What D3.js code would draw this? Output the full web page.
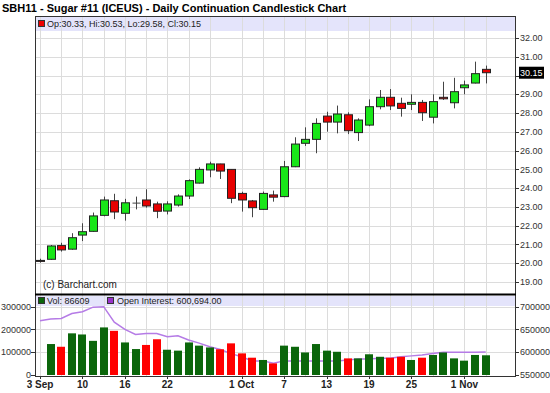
<!DOCTYPE html>
<html>
<head>
<meta charset="utf-8">
<script src="https://cdn.jsdelivr.net/npm/d3@7"></script>
<style>
  body { margin: 0; background: #fff; }
  svg { display: block; font-family: "Liberation Sans", Arial, sans-serif; }
</style>
</head>
<body>
<div id="chart"></div>
<script>
// trading days shown on the chart
const dates = [
  "2010-09-03","2010-09-07","2010-09-08","2010-09-09","2010-09-10","2010-09-13","2010-09-14",
  "2010-09-15","2010-09-16","2010-09-17","2010-09-20","2010-09-21","2010-09-22","2010-09-23",
  "2010-09-24","2010-09-27","2010-09-28","2010-09-29","2010-09-30","2010-10-01","2010-10-04",
  "2010-10-05","2010-10-06","2010-10-07","2010-10-08","2010-10-11","2010-10-12","2010-10-13",
  "2010-10-14","2010-10-15","2010-10-18","2010-10-19","2010-10-20","2010-10-21","2010-10-22",
  "2010-10-25","2010-10-26","2010-10-27","2010-10-28","2010-10-29","2010-11-01","2010-11-02",
  "2010-11-03"
]
const open = [20.15,20.21,20.94,20.75,21.50,21.70,22.55,23.33,22.66,23.23,23.37,23.16,22.78,23.10,
  23.58,24.27,24.97,25.29,25.00,23.72,23.32,22.87,23.64,23.55,25.14,26.39,26.60,27.84,27.52,27.91,
  26.96,27.36,28.34,28.84,28.52,28.47,28.57,27.78,28.84,28.55,29.35,29.60,30.33]
const high = [20.24,20.97,21.09,21.60,22.13,22.70,23.55,23.70,23.43,23.55,23.94,23.28,23.30,23.67,
  24.47,25.11,25.41,25.30,25.00,23.81,23.37,23.82,23.87,25.45,26.71,27.24,27.72,28.07,28.40,28.04,
  27.72,28.73,29.23,29.28,28.82,29.00,28.70,29.00,29.67,29.88,29.73,30.74,30.53]
const low = [20.03,20.18,20.62,20.72,21.18,21.68,22.50,22.35,22.27,22.87,22.96,22.40,22.60,23.02,
  23.42,24.25,24.58,24.49,23.20,22.75,22.45,22.85,23.28,23.52,25.12,26.25,25.86,27.01,26.92,26.88,
  26.51,27.30,28.20,28.16,27.81,28.16,27.58,27.45,28.70,28.25,29.00,29.58,29.58]
const close = [20.12,20.92,20.71,21.36,21.68,22.52,23.37,22.73,23.22,23.23,23.05,22.77,23.16,23.58,
  24.40,25.00,25.29,24.91,23.46,23.37,22.96,23.72,23.52,25.14,26.35,26.60,27.45,27.52,27.95,27.06,
  27.63,28.34,28.84,28.38,28.25,28.57,28.02,28.61,28.76,29.14,29.50,30.10,30.15]
const volume = [null,136000,124000,183000,178000,150000,209000,194000,143000,114000,132000,157000,
  111000,107000,143000,129000,121000,113000,139000,95000,76000,66000,51000,129000,124000,99000,
  136000,107000,102000,73000,73000,91000,80000,76000,80000,66000,76000,88000,99000,73000,63000,
  88000,86609]
const openInterest = [669000,673000,674000,685000,689000,699000,700000,666000,650000,639000,641000,
  641000,634000,636000,627000,620000,612000,606000,597000,590000,581000,581000,576000,581000,581000,
  581000,581000,581000,581000,583000,585000,585000,587000,587000,590000,592000,594000,597000,600000,
  600000,600000,600000,600694]

// x tick labels
const tickDates = ["2010-09-03","2010-09-10","2010-09-16","2010-09-22","2010-10-01","2010-10-07",
  "2010-10-13","2010-10-19","2010-10-25","2010-11-01"]
const tickLabels = ["3 Sep","10","16","22","1 Oct","7","13","19","25","1 Nov"]
// vertical grid lines
const gridDates = ["2010-09-03","2010-09-08","2010-09-10","2010-09-14","2010-09-16","2010-09-20",
  "2010-09-22","2010-09-24","2010-09-28","2010-10-01","2010-10-05","2010-10-07","2010-10-11",
  "2010-10-13","2010-10-15","2010-10-19","2010-10-21","2010-10-25","2010-10-27","2010-11-01",
  "2010-11-03"]
const priceTicks = d3.range(19, 33)
const volTicks = [0, 100000, 200000, 300000]
const oiTicks = [550000, 600000, 650000, 700000]

const W = 550, H = 393
const L = 35, R = 515
const mainTop = 16, mainBot = 294
const volTop = 295, volBot = 376

const svg = d3.select('#chart').append('svg')
  .attr('width', W).attr('height', H)

const data = dates.map((d, i) => ({
  date: d, o: open[i], h: high[i], l: low[i], c: close[i],
  v: volume[i], oi: openInterest[i], up: close[i] >= open[i],
  volUp: i === 0 ? true : close[i] >= close[i - 1]
}))
const last = data[data.length - 1]

//scales
const x = d3.scalePoint().domain(dates).range([40, 485.7])
const y = d3.scaleLinear().domain([19, 32]).range([282, 38])
const yVol = d3.scaleLinear().domain([0, 300000]).range([375, 306.7])
const yOI = d3.scaleLinear().domain([550000, 700000]).range([375, 306.7])

// title
svg.append('text').attr('x', 2).attr('y', 12)
  .attr('font-size', 11).attr('font-weight', 'bold')
  .text('SBH11 - Sugar #11 (ICEUS) - Daily Continuation Candlestick Chart')

// ---- main panel
const main = svg.append('g')
main.append('rect').attr('x', L).attr('y', mainTop).attr('width', R - L).attr('height', mainBot - mainTop)
  .attr('fill', '#fff')
main.append('rect').attr('x', L).attr('y', mainTop + 1).attr('width', R - L).attr('height', 14)
  .attr('fill', '#e4e4fb')

const grid = main.append('g').attr('stroke', '#dcdcdc').attr('stroke-width', 1)
grid.selectAll('.vg').data(gridDates).join('line')
  .attr('x1', d => Math.round(x(d)) + 0.5).attr('x2', d => Math.round(x(d)) + 0.5)
  .attr('y1', mainTop).attr('y2', mainBot)
grid.selectAll('.hg').data(priceTicks).join('line')
  .attr('x1', L).attr('x2', R)
  .attr('y1', d => Math.round(y(d)) + 0.5).attr('y2', d => Math.round(y(d)) + 0.5)

// legend
main.append('rect').attr('x', 38.5).attr('y', 20.5).attr('width', 6).attr('height', 6)
  .attr('fill', '#e00').attr('stroke', '#333')
main.append('text').attr('x', 47).attr('y', 27).attr('font-size', 9).attr('fill', '#222')
  .text('Op:30.33, Hi:30.53, Lo:29.58, Cl:30.15')

main.append('text').attr('x', 43).attr('y', 288).attr('font-size', 10).attr('fill', '#222')
  .text('(c) Barchart.com')

// candles
const bw = 8
const candles = main.append('g')
candles.selectAll('.wick').data(data).join('line')
  .attr('x1', d => Math.round(x(d.date)) + 0.5).attr('x2', d => Math.round(x(d.date)) + 0.5)
  .attr('y1', d => y(d.h)).attr('y2', d => y(d.l))
  .attr('stroke', '#444').attr('stroke-width', 1)
candles.selectAll('.body').data(data).join('rect')
  .attr('x', d => Math.round(x(d.date)) - bw / 2 + 0.5)
  .attr('y', d => y(Math.max(d.o, d.c)))
  .attr('width', bw)
  .attr('height', d => Math.max(1, Math.abs(y(d.o) - y(d.c))))
  .attr('fill', d => d.o === d.c ? '#444' : d.up ? '#19e619' : '#e60000')
  .attr('stroke', d => d.o === d.c ? 'none' : '#222')
  .attr('stroke-width', 1)

// price axis (label hidden where the last-price marker sits)
const pa = svg.append('g')
pa.selectAll('line').data(priceTicks).join('line')
  .attr('x1', R).attr('x2', R + 4)
  .attr('y1', d => Math.round(y(d)) + 0.5).attr('y2', d => Math.round(y(d)) + 0.5)
  .attr('stroke', '#333')
pa.selectAll('text').data(priceTicks.filter(d => Math.abs(y(d) - y(last.c)) > 9)).join('text')
  .attr('x', R + 5).attr('y', d => y(d)).attr('dy', '0.35em')
  .attr('font-size', 9).attr('fill', '#333')
  .text(d => d3.format('.2f')(d))
// last price marker
pa.append('rect').attr('x', R + 4).attr('y', y(last.c) - 6).attr('width', 25).attr('height', 12)
  .attr('fill', '#000')
pa.append('text').attr('x', R + 5).attr('y', y(last.c)).attr('dy', '0.35em')
  .attr('font-size', 9).attr('fill', '#fff').text(d3.format('.2f')(last.c))

// ---- volume panel
const vol = svg.append('g')
vol.append('rect').attr('x', L).attr('y', volTop + 1).attr('width', R - L).attr('height', 10)
  .attr('fill', '#e4e4fb')
const vgrid = vol.append('g').attr('stroke', '#dcdcdc')
vgrid.selectAll('.vg').data(gridDates).join('line')
  .attr('x1', d => Math.round(x(d)) + 0.5).attr('x2', d => Math.round(x(d)) + 0.5)
  .attr('y1', volTop).attr('y2', volBot)
vgrid.selectAll('.hg').data(volTicks.slice(1)).join('line')
  .attr('x1', L).attr('x2', R)
  .attr('y1', d => Math.round(yVol(d)) + 0.5).attr('y2', d => Math.round(yVol(d)) + 0.5)

// open interest line (behind bars)
vol.append('path').datum(data)
  .attr('fill', 'none').attr('stroke', '#b57be6').attr('stroke-width', 1.5)
  .attr('d', d3.line().x(d => x(d.date)).y(d => yOI(d.oi)))

vol.selectAll('.vbar').data(data.filter(d => d.v != null)).join('rect')
  .attr('x', d => Math.round(x(d.date)) - 4)
  .attr('y', d => yVol(d.v))
  .attr('width', 8)
  .attr('height', d => yVol(0) - yVol(d.v))
  .attr('fill', d => d.volUp ? '#0b660b' : '#ff0000')

// volume legend
vol.append('rect').attr('x', 38.5).attr('y', 297.5).attr('width', 6).attr('height', 6)
  .attr('fill', '#0b660b').attr('stroke', '#333')
vol.append('text').attr('x', 47).attr('y', 304).attr('font-size', 9).attr('fill', '#222')
  .text('Vol: ' + last.v)
vol.append('rect').attr('x', 107.5).attr('y', 297.5).attr('width', 6).attr('height', 6)
  .attr('fill', '#9933cc').attr('stroke', '#333')
vol.append('text').attr('x', 117).attr('y', 304).attr('font-size', 9).attr('fill', '#222')
  .text('Open Interest: ' + d3.format(',.2f')(last.oi))

// volume axes
const va = svg.append('g').attr('font-size', 9).attr('fill', '#333')
va.selectAll('line').data(volTicks).join('line')
  .attr('x1', L - 4).attr('x2', L)
  .attr('y1', d => Math.round(yVol(d)) + 0.5).attr('y2', d => Math.round(yVol(d)) + 0.5)
  .attr('stroke', '#333')
va.selectAll('text').data(volTicks).join('text')
  .attr('x', L - 4).attr('y', d => yVol(d)).attr('dy', '0.35em').attr('text-anchor', 'end')
  .text(d => d)
const oa = svg.append('g').attr('font-size', 9).attr('fill', '#333')
oa.selectAll('line').data(oiTicks).join('line')
  .attr('x1', R).attr('x2', R + 4)
  .attr('y1', d => Math.round(yOI(d)) + 0.5).attr('y2', d => Math.round(yOI(d)) + 0.5)
  .attr('stroke', '#333')
oa.selectAll('text').data(oiTicks).join('text')
  .attr('x', R + 5).attr('y', d => yOI(d)).attr('dy', '0.35em')
  .text(d => d)

// frames
svg.append('rect').attr('x', L + 0.5).attr('y', mainTop + 0.5).attr('width', R - L).attr('height', volBot - mainTop)
  .attr('fill', 'none').attr('stroke', '#333')
svg.append('line').attr('x1', L).attr('x2', R + 1).attr('y1', mainBot + 0.5).attr('y2', mainBot + 0.5)
  .attr('stroke', '#000').attr('stroke-width', 2)

// x axis
const xa = svg.append('g')
xa.selectAll('line').data(tickDates).join('line')
  .attr('x1', d => Math.round(x(d)) + 0.5).attr('x2', d => Math.round(x(d)) + 0.5)
  .attr('y1', volBot).attr('y2', volBot + 3).attr('stroke', '#333')
xa.selectAll('text').data(tickDates).join('text')
  .attr('x', d => x(d)).attr('y', 388).attr('text-anchor', 'middle')
  .attr('font-size', 10).attr('font-weight', 'bold').attr('fill', '#222')
  .text((d, i) => tickLabels[i])
</script>
</body>
</html>
